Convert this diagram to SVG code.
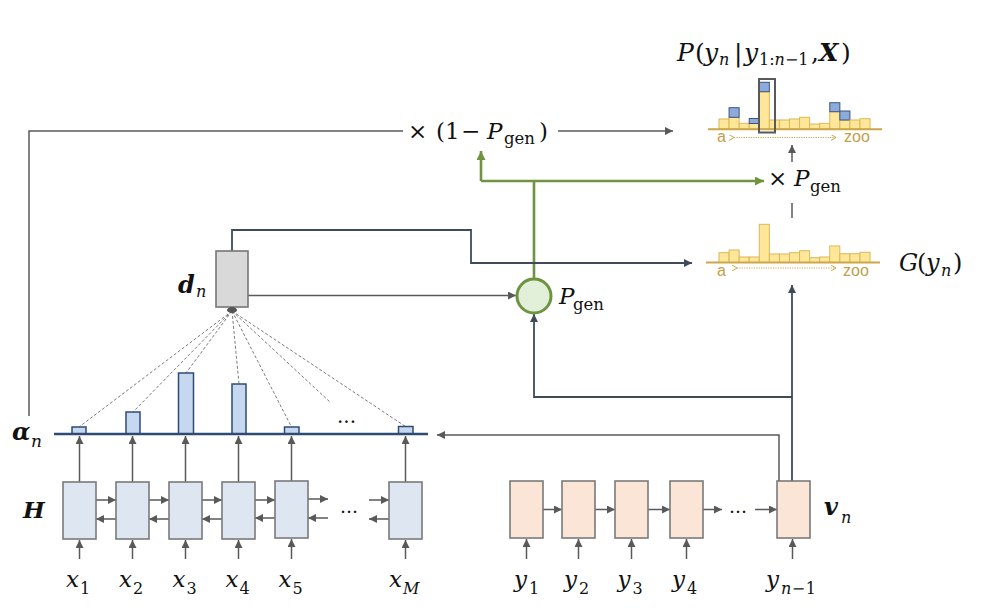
<svg xmlns="http://www.w3.org/2000/svg" width="996" height="614" viewBox="0 0 996 614">
<defs>
<style>
.m{font-family:"DejaVu Serif","Liberation Serif",serif;fill:#111}
.i{font-style:italic}
.bi{font-style:italic;font-weight:bold}
.g{stroke:#595959;stroke-width:1.5;fill:none}
.dk{stroke:#3f4a5a;stroke-width:1.8;fill:none}
.gr{stroke:#6f9440;stroke-width:2.6;fill:none}
.enc{fill:#dee6f2;stroke:#7a7a7a;stroke-width:1.6}
.dec{fill:#fbe5d6;stroke:#7a7a7a;stroke-width:1.6}
.att{fill:#c5d8ef;stroke:#2f4b75;stroke-width:1.5}
.dash{stroke:#5a5a5a;stroke-width:0.8;stroke-dasharray:3,2;fill:none}
.hy{fill:#ffe699;stroke:#d8b85a;stroke-width:1}
.hb{fill:#8eaadb;stroke:#3a5680;stroke-width:1}
.base{stroke:#c9a74a;stroke-width:2}
.dot{stroke:#c9a74a;stroke-width:1.2;stroke-dasharray:1.2,1.2;fill:none}
.gt{font-family:"Liberation Sans","DejaVu Sans",sans-serif;font-size:16px;fill:#c0a04a}
</style>
<marker id="ag" markerUnits="userSpaceOnUse" markerWidth="9" markerHeight="8" refX="8" refY="4" orient="auto"><path d="M0,0 L8,4 L0,8 z" fill="#595959"/></marker>
<marker id="ad" markerUnits="userSpaceOnUse" markerWidth="9" markerHeight="8" refX="8" refY="4" orient="auto"><path d="M0,0 L8,4 L0,8 z" fill="#3f4a5a"/></marker>
<marker id="agr" markerUnits="userSpaceOnUse" markerWidth="10" markerHeight="9" refX="9" refY="4.5" orient="auto"><path d="M0,0 L9,4.5 L0,9 z" fill="#6f9440"/></marker>
<marker id="ao" markerUnits="userSpaceOnUse" markerWidth="6" markerHeight="6" refX="5" refY="3" orient="auto"><path d="M0,0 L5,3 L0,6" fill="none" stroke="#c9a74a" stroke-width="1"/></marker>
</defs>
<rect width="996" height="614" fill="#fff"/>

<g id="connectors">
  <path class="g" d="M29,416 V131 H403"/>
  <path class="g" d="M558,131 H673" marker-end="url(#ag)"/>
  <path class="gr" d="M534,278 V181"/>
  <path class="gr" d="M481,181 H764" marker-end="url(#agr)"/>
  <path class="gr" d="M481,181 V151" marker-end="url(#agr)"/>
  <path class="g" d="M792,162 V145" marker-end="url(#ag)"/>
  <path class="g" d="M792,218 V203"/>
  <path class="dk" d="M232,251 V230 H471 V263 H692" marker-end="url(#ad)"/>
  <path class="g" d="M248,295.5 H516" marker-end="url(#ag)"/>
  <path class="dk" d="M792,481 V285" marker-end="url(#ad)"/>
  <path class="dk" d="M792,397 H534 V314" marker-end="url(#ad)"/>
  <path class="g" d="M779,481 V435 H437" marker-end="url(#ag)"/>
  <path class="dash" d="M232,311 L79,427 M232,311 L133,412 M232,311 L186,373 M232,311 L239,384 M232,311 L291.5,427 M232,311 L330,402 M232,311 L405.5,426.5"/>
  <path class="g" d="M79.5,482 V436" marker-end="url(#ag)"/>
  <path class="g" d="M132.5,482 V436" marker-end="url(#ag)"/>
  <path class="g" d="M185.5,482 V436" marker-end="url(#ag)"/>
  <path class="g" d="M238.5,482 V436" marker-end="url(#ag)"/>
  <path class="g" d="M291.5,481 V436" marker-end="url(#ag)"/>
  <path class="g" d="M405.5,482 V436" marker-end="url(#ag)"/>
  <path class="g" d="M96,500 H116" marker-end="url(#ag)"/>
  <path class="g" d="M149,500 H169" marker-end="url(#ag)"/>
  <path class="g" d="M202,500 H222" marker-end="url(#ag)"/>
  <path class="g" d="M255,500 H275" marker-end="url(#ag)"/>
  <path class="g" d="M308,499 H328" marker-end="url(#ag)"/>
  <path class="g" d="M369,500 H389" marker-end="url(#ag)"/>
  <path class="g" d="M116,519 H96" marker-end="url(#ag)"/>
  <path class="g" d="M169,519 H149" marker-end="url(#ag)"/>
  <path class="g" d="M222,519 H202" marker-end="url(#ag)"/>
  <path class="g" d="M275,518 H255" marker-end="url(#ag)"/>
  <path class="g" d="M328,518 H308" marker-end="url(#ag)"/>
  <path class="g" d="M389,519 H369" marker-end="url(#ag)"/>
  <path class="g" d="M79.5,559 V540" marker-end="url(#ag)"/>
  <path class="g" d="M132.5,559 V540" marker-end="url(#ag)"/>
  <path class="g" d="M185.5,559 V540" marker-end="url(#ag)"/>
  <path class="g" d="M238.5,559 V540" marker-end="url(#ag)"/>
  <path class="g" d="M291.5,559 V539" marker-end="url(#ag)"/>
  <path class="g" d="M405.5,559 V540" marker-end="url(#ag)"/>
  <path class="g" d="M543,509.5 H562" marker-end="url(#ag)"/>
  <path class="g" d="M595,509.5 H615" marker-end="url(#ag)"/>
  <path class="g" d="M648,509.5 H670" marker-end="url(#ag)"/>
  <path class="g" d="M703,509.5 H722" marker-end="url(#ag)"/>
  <path class="g" d="M755,509.5 H777" marker-end="url(#ag)"/>
  <path class="g" d="M526.5,559 V539" marker-end="url(#ag)"/>
  <path class="g" d="M578.5,559 V539" marker-end="url(#ag)"/>
  <path class="g" d="M631.5,559 V539" marker-end="url(#ag)"/>
  <path class="g" d="M686.5,559 V539" marker-end="url(#ag)"/>
  <path class="g" d="M792.5,559 V539" marker-end="url(#ag)"/>
</g>

<g id="dn">
  <rect x="216" y="251" width="32" height="56" fill="#d9d9d9" stroke="#767676" stroke-width="1.6"/>
  <ellipse cx="232" cy="310" rx="5" ry="3" fill="#555"/>
  <text class="m bi" x="178" y="293" font-size="24">d</text>
  <text class="m i" x="196" y="297" font-size="16">n</text>
</g>

<g id="pgen">
  <circle cx="534" cy="296" r="17" fill="#e2efd9" stroke="#6f9440" stroke-width="3"/>
  <text class="m i" x="559" y="304" font-size="23">P</text>
  <text class="m" x="573" y="310" font-size="16.5">gen</text>
</g>

<g id="one-minus">
  <text class="m" y="139" font-size="23"><tspan x="408">×</tspan><tspan x="436">(1</tspan><tspan x="461">−</tspan><tspan x="487" class="i">P</tspan><tspan x="539">)</tspan></text>
  <text class="m" x="504" y="143.5" font-size="16.5">gen</text>
</g>

<g id="times-pgen">
  <text class="m" y="186" font-size="23"><tspan x="768">×</tspan><tspan x="794" class="i">P</tspan></text>
  <text class="m" x="810" y="191.5" font-size="16.5">gen</text>
</g>

<g id="alpha">
  <line x1="54" y1="434" x2="428" y2="434" stroke="#2f4b75" stroke-width="2.5"/>
  <rect class="att" x="72" y="427" width="14" height="6.5"/>
  <rect class="att" x="126" y="412" width="14" height="21.5"/>
  <rect class="att" x="178.5" y="373" width="15" height="60.5"/>
  <rect class="att" x="232" y="384" width="14" height="49.5"/>
  <rect class="att" x="284.5" y="427" width="14.5" height="6.5"/>
  <rect class="att" x="398.5" y="426.5" width="14.5" height="7"/>
  <text class="m" x="337" y="423" font-size="20">...</text>
  <text class="m bi" x="12" y="440" font-size="24" fill="#2f5597">α</text>
  <text class="m i" x="31" y="447" font-size="17" fill="#2f5597">n</text>
</g>

<g id="encoder">
  <rect class="enc" x="63" y="482" width="33" height="57"/>
  <rect class="enc" x="116" y="482" width="33" height="57"/>
  <rect class="enc" x="169" y="482" width="33" height="57"/>
  <rect class="enc" x="222" y="482" width="33" height="57"/>
  <rect class="enc" x="275" y="481" width="33" height="57"/>
  <rect class="enc" x="389" y="482" width="33" height="57"/>
  <text class="m" x="340" y="513" font-size="19">...</text>
  <text class="m bi" x="23" y="518" font-size="23">H</text>
</g>

<g id="x-labels">
  <text class="m i" x="66" y="587" font-size="23">x</text><text class="m" x="80" y="594" font-size="16">1</text>
  <text class="m i" x="119" y="587" font-size="23">x</text><text class="m" x="133" y="594" font-size="16">2</text>
  <text class="m i" x="172.5" y="587" font-size="23">x</text><text class="m" x="186.5" y="594" font-size="16">3</text>
  <text class="m i" x="225.5" y="587" font-size="23">x</text><text class="m" x="239.5" y="594" font-size="16">4</text>
  <text class="m i" x="278.5" y="587" font-size="23">x</text><text class="m" x="292.5" y="594" font-size="16">5</text>
  <text class="m i" x="389" y="587" font-size="23">x</text><text class="m i" x="403" y="594" font-size="16">M</text>
</g>

<g id="decoder">
  <rect class="dec" x="510" y="481" width="33" height="57"/>
  <rect class="dec" x="562" y="481" width="33" height="57"/>
  <rect class="dec" x="615" y="481" width="33" height="57"/>
  <rect class="dec" x="670" y="481" width="33" height="57"/>
  <rect class="dec" x="777" y="481" width="33" height="57"/>
  <text class="m" x="729" y="513" font-size="19">...</text>
  <text class="m bi" x="824" y="515" font-size="24">v</text>
  <text class="m i" x="841" y="523" font-size="16">n</text>
</g>

<g id="y-labels">
  <text class="m i" x="514" y="587" font-size="23">y</text><text class="m" x="529" y="594" font-size="16">1</text>
  <text class="m i" x="564" y="587" font-size="23">y</text><text class="m" x="579" y="594" font-size="16">2</text>
  <text class="m i" x="617.5" y="587" font-size="23">y</text><text class="m" x="632.5" y="594" font-size="16">3</text>
  <text class="m i" x="672" y="587" font-size="23">y</text><text class="m" x="687" y="594" font-size="16">4</text>
  <text class="m i" x="766" y="587" font-size="23">y</text><text class="m" x="781" y="594" font-size="16" letter-spacing="0.5"><tspan class="i">n</tspan>−1</text>
</g>

<g id="G-hist">
  <rect class="hy" x="719" y="252.7" width="10.07" height="9.8"/>
  <rect class="hy" x="729.07" y="250" width="10.07" height="12.5"/>
  <rect class="hy" x="739.14" y="257" width="10.07" height="5.5"/>
  <rect class="hy" x="749.21" y="257" width="10.07" height="5.5"/>
  <rect class="hy" x="759.28" y="224.3" width="10.07" height="38.2"/>
  <rect class="hy" x="769.35" y="254" width="10.07" height="8.5"/>
  <rect class="hy" x="779.42" y="254" width="10.07" height="8.5"/>
  <rect class="hy" x="789.49" y="252.7" width="10.07" height="9.8"/>
  <rect class="hy" x="799.56" y="250.7" width="10.07" height="11.8"/>
  <rect class="hy" x="809.63" y="257.7" width="10.07" height="4.8"/>
  <rect class="hy" x="819.7" y="257" width="10.07" height="5.5"/>
  <rect class="hy" x="829.77" y="246" width="10.07" height="16.5"/>
  <rect class="hy" x="839.84" y="253.7" width="10.07" height="8.8"/>
  <rect class="hy" x="849.91" y="253.7" width="10.07" height="8.8"/>
  <rect class="hy" x="859.98" y="252.3" width="10.07" height="10.2"/>
  <line class="base" x1="706" y1="262.5" x2="880" y2="262.5"/>
  <text class="gt" x="717" y="276">a</text>
  <text class="gt" x="843" y="276">zoo</text>
  <path class="dot" d="M737,268 H836" marker-start="url(#ao)" marker-end="url(#ao)"/>
  <text class="m" y="271" font-size="24"><tspan x="899" class="i">G</tspan><tspan x="917">(</tspan><tspan x="926" class="i">y</tspan><tspan x="953">)</tspan></text>
  <text class="m i" x="941" y="276" font-size="16">n</text>
</g>

<g id="P-hist">
  <rect class="hy" x="719" y="119" width="10.07" height="10"/>
  <rect class="hy" x="729.07" y="117.3" width="10.07" height="11.7"/>
  <rect class="hb" x="729.07" y="107.7" width="10.07" height="9.6"/>
  <rect class="hy" x="739.14" y="123.3" width="10.07" height="5.7"/>
  <rect class="hy" x="749.21" y="123.5" width="10.07" height="5.5"/>
  <rect class="hb" x="749.21" y="118.5" width="10.07" height="5"/>
  <rect class="hy" x="759.28" y="91.7" width="10.07" height="37.3"/>
  <rect class="hb" x="759.28" y="82.3" width="10.07" height="9.4"/>
  <rect class="hy" x="769.35" y="120" width="10.07" height="9"/>
  <rect class="hy" x="779.42" y="120" width="10.07" height="9"/>
  <rect class="hy" x="789.49" y="119" width="10.07" height="10"/>
  <rect class="hy" x="799.56" y="117.3" width="10.07" height="11.7"/>
  <rect class="hy" x="809.63" y="124" width="10.07" height="5"/>
  <rect class="hy" x="819.7" y="123.3" width="10.07" height="5.7"/>
  <rect class="hy" x="829.77" y="111.7" width="10.07" height="17.3"/>
  <rect class="hb" x="829.77" y="102.7" width="10.07" height="9"/>
  <rect class="hy" x="839.84" y="120" width="10.07" height="9"/>
  <rect class="hb" x="839.84" y="111" width="10.07" height="9"/>
  <rect class="hy" x="849.91" y="120" width="10.07" height="9"/>
  <rect class="hy" x="859.98" y="118.7" width="10.07" height="10.3"/>
  <line class="base" x1="708" y1="129.3" x2="882" y2="129.3"/>
  <rect x="759" y="79" width="16" height="53.5" fill="none" stroke="#595959" stroke-width="2"/>
  <text class="gt" x="717" y="142">a</text>
  <text class="gt" x="844" y="142">zoo</text>
  <path class="dot" d="M734,137.5 H836" marker-start="url(#ao)" marker-end="url(#ao)"/>
  <text class="m" y="61" font-size="25"><tspan x="677" class="i">P</tspan><tspan x="695">(</tspan><tspan x="704" class="i">y</tspan><tspan x="734">|</tspan><tspan x="744" class="i">y</tspan><tspan x="811">,</tspan><tspan x="819" class="bi">X</tspan><tspan x="841">)</tspan></text>
  <text class="m i" x="719" y="65" font-size="16">n</text>
  <text class="m" x="759" y="65" font-size="16">1:<tspan class="i">n</tspan>−1</text>
</g>
</svg>
